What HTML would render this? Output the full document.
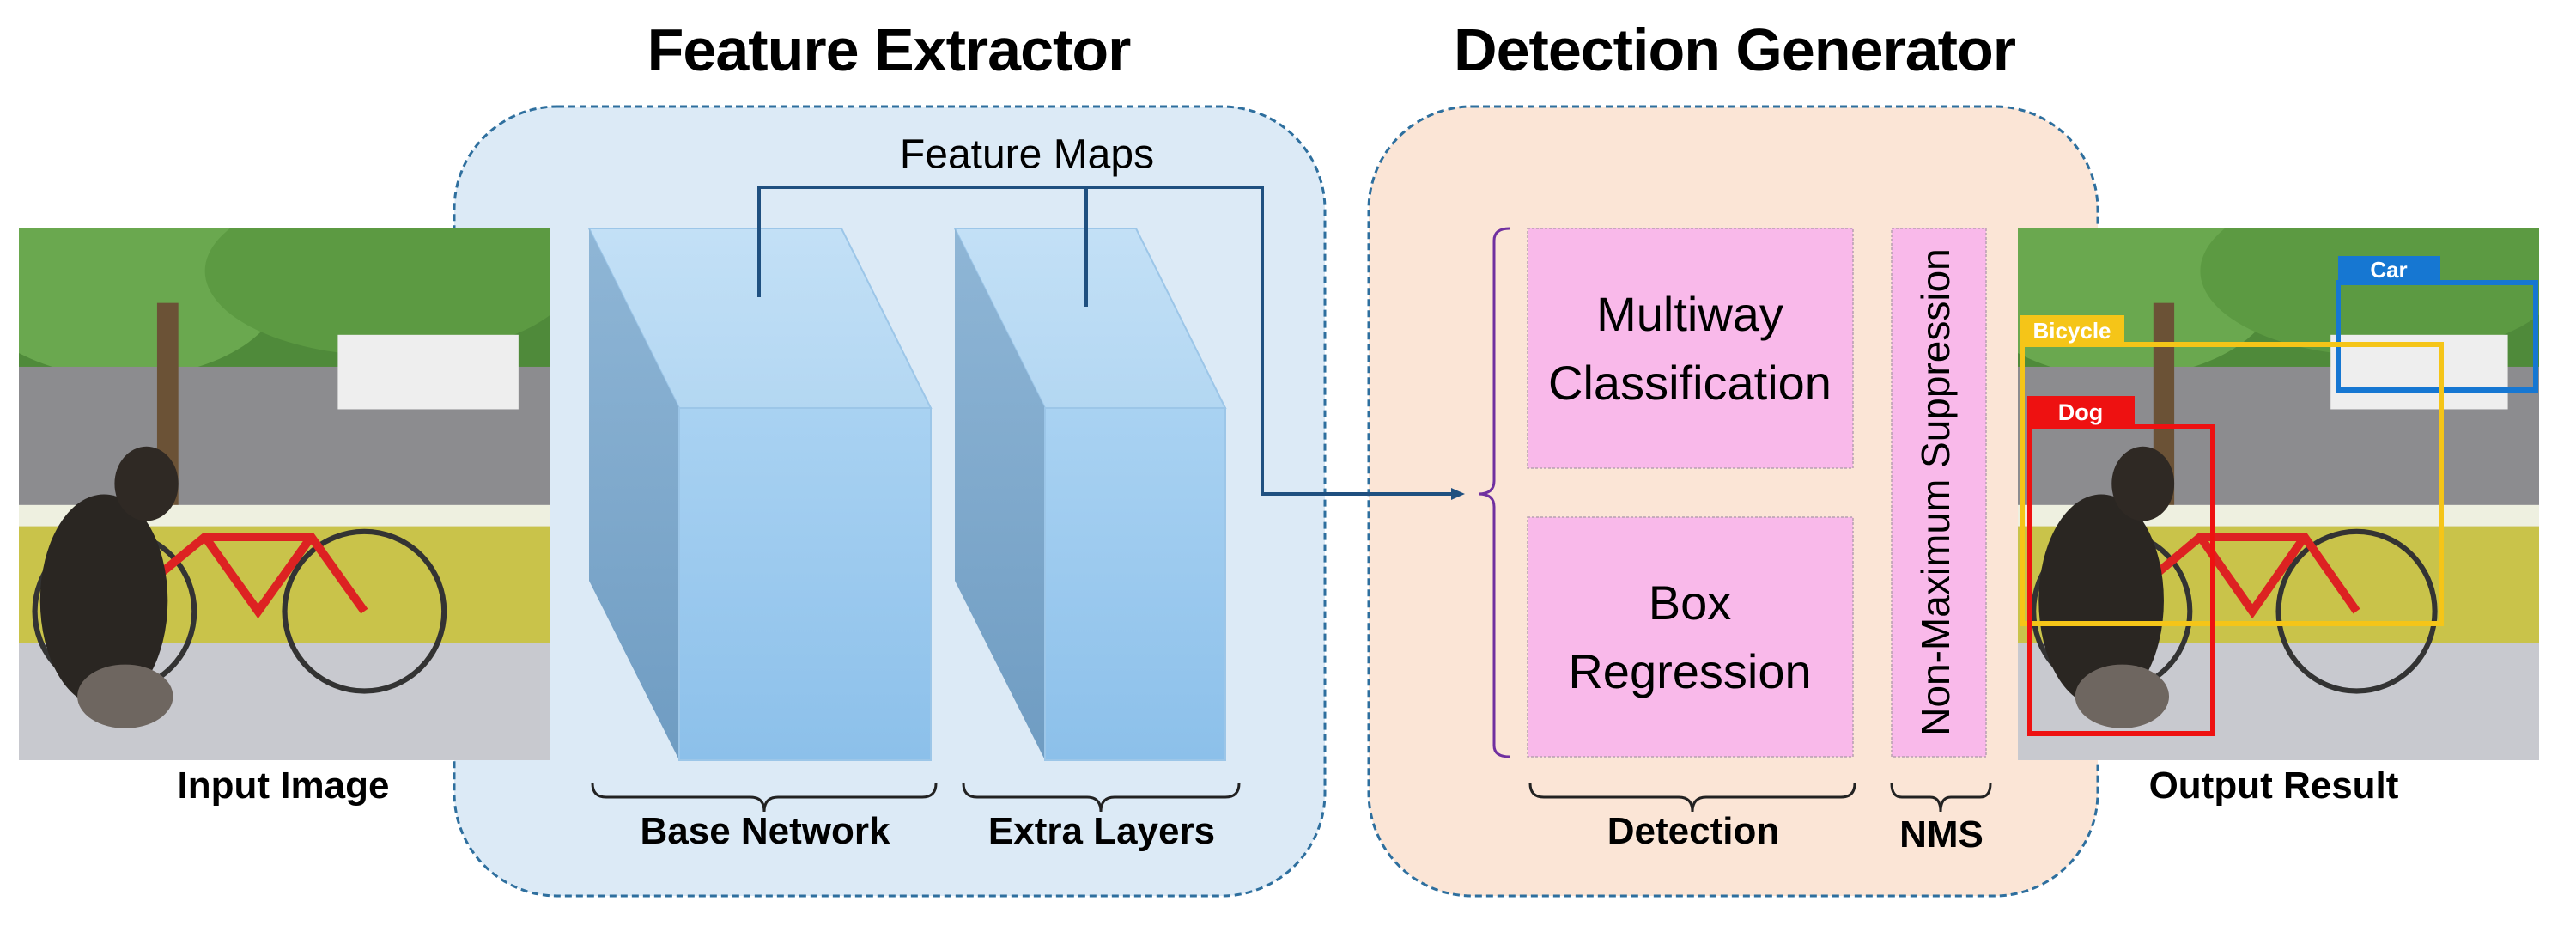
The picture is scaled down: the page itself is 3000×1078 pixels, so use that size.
<!DOCTYPE html>
<html><head><meta charset="utf-8"><style>
html,body{margin:0;padding:0;background:#fff}
body{width:3000px;height:1078px;position:relative;overflow:hidden;font-family:"Liberation Sans",sans-serif}
.t{position:absolute;white-space:nowrap;transform:translate(-50%,-50%);color:#000}
</style></head><body>
<svg width="3000" height="1078" style="position:absolute;left:0;top:0">
<defs>
<linearGradient id="front" x1="0" y1="0" x2="0" y2="1"><stop offset="0" stop-color="#a9d2f2"/><stop offset="1" stop-color="#8cc0ea"/></linearGradient>
<linearGradient id="top" x1="0" y1="0" x2="0" y2="1"><stop offset="0" stop-color="#c3e0f6"/><stop offset="1" stop-color="#b3d7f2"/></linearGradient>
<linearGradient id="side" x1="0" y1="0" x2="0" y2="1"><stop offset="0" stop-color="#8fb6d6"/><stop offset="1" stop-color="#6f9cc2"/></linearGradient>
<clipPath id="pc"><rect x="0" y="0" width="100" height="100"/></clipPath>
<g id="photo" clip-path="url(#pc)">
<rect x="0" y="0" width="100" height="100" fill="#cfd0cf"/>
<rect x="0" y="0" width="100" height="32" fill="#4f8a3a"/>
<ellipse cx="20" cy="10" rx="30" ry="18" fill="#6aa84f"/>
<ellipse cx="70" cy="8" rx="35" ry="16" fill="#5c9a42"/>
<rect x="0" y="26" width="100" height="26" fill="#8c8c8f"/>
<rect x="60" y="20" width="34" height="14" fill="#eeeeee"/>
<rect x="26" y="14" width="4" height="38" fill="#6b5236"/>
<rect x="0" y="52" width="100" height="4" fill="#eef0e0"/>
<rect x="0" y="56" width="100" height="22" fill="#c9c34a"/>
<rect x="0" y="78" width="100" height="22" fill="#c8c9cf"/>
<circle cx="18" cy="72" r="15" fill="none" stroke="#333" stroke-width="1"/>
<circle cx="65" cy="72" r="15" fill="none" stroke="#333" stroke-width="1"/>
<path d="M18 72 L35 58 L55 58 L65 72 M35 58 L45 72 L55 58" fill="none" stroke="#d22" stroke-width="1.6"/>
<ellipse cx="16" cy="70" rx="12" ry="20" fill="#2a2622"/>
<ellipse cx="20" cy="88" rx="9" ry="6" fill="#6e6660"/>
<ellipse cx="24" cy="48" rx="6" ry="7" fill="#2f2924"/>
</g>
</defs>
<rect x="529" y="124" width="1014" height="919" rx="120" fill="#dceaf6" stroke="#2e6f9e" stroke-width="3" stroke-dasharray="8,5"/>
<rect x="1594" y="124" width="849" height="919" rx="120" fill="#fbe5d6" stroke="#2e6f9e" stroke-width="3" stroke-dasharray="8,5"/>
<g transform="translate(22,266) scale(6.19,6.19)"><use href="#photo"/></g>
<g transform="translate(2350,266) scale(6.07,6.19)"><use href="#photo"/></g>
<polygon points="686,266 980,266 1084,475 791,475" fill="url(#top)" stroke="#9cc6e8" stroke-width="2"/>
<polygon points="686,266 791,475 791,885 686,676" fill="url(#side)"/>
<rect x="791" y="475" width="293" height="410" fill="url(#front)" stroke="#9cc6e8" stroke-width="2"/>
<polygon points="1112,266 1323,266 1427,475 1217,475" fill="url(#top)" stroke="#9cc6e8" stroke-width="2"/>
<polygon points="1112,266 1217,475 1217,885 1112,676" fill="url(#side)"/>
<rect x="1217" y="475" width="210" height="410" fill="url(#front)" stroke="#9cc6e8" stroke-width="2"/>
<g stroke="#1f5080" stroke-width="4" fill="none">
<polyline points="884,346 884,218 1470,218 1470,575 1695,575"/>
<line x1="1265" y1="218" x2="1265" y2="357"/>
</g>
<polygon points="1706,575 1690,568 1690,582" fill="#1f5080"/>
<path d="M1758,266 Q1740,266 1740,280 L1740,560 Q1740,575 1722,575 Q1740,575 1740,590 L1740,868 Q1740,881 1758,881" fill="none" stroke="#7030a0" stroke-width="3"/>
<g fill="#f9b9ea" stroke="#b8a0b0" stroke-width="1.5" stroke-dasharray="3,2">
<rect x="1779" y="266" width="379" height="279"/>
<rect x="1779" y="602" width="379" height="279"/>
<rect x="2203" y="266" width="110" height="615"/>
</g>
<g fill="none" stroke="#222" stroke-width="3">
<path d="M690,912 Q690,928 706,928 L874,928 Q890,928 890,945 Q890,928 906,928 L1074,928 Q1090,928 1090,912"/>
<path d="M1122,912 Q1122,928 1138,928 L1266,928 Q1282,928 1282,945 Q1282,928 1298,928 L1427,928 Q1443,928 1443,912"/>
<path d="M1782,912 Q1782,928 1798,928 L1955,928 Q1971,928 1971,945 Q1971,928 1987,928 L2144,928 Q2160,928 2160,912"/>
<path d="M2203,912 Q2203,928 2215,928 L2248,928 Q2260,928 2260,945 Q2260,928 2272,928 L2306,928 Q2318,928 2318,912"/>
</g>
<g fill="none" stroke-width="6">
<rect x="2723" y="329" width="230" height="125" stroke="#1677d2"/>
<rect x="2355" y="401" width="488" height="325" stroke="#f5c518"/>
<rect x="2364" y="497" width="213" height="357" stroke="#ee1111"/>
</g>
<rect x="2723" y="298" width="119" height="31" fill="#1677d2"/>
<rect x="2352" y="367" width="122" height="34" fill="#f5c518"/>
<rect x="2361" y="461" width="125" height="36" fill="#ee1111"/>
<text x="2782" y="323" font-family="Liberation Sans" font-weight="bold" font-size="26" fill="#fff" text-anchor="middle">Car</text>
<text x="2413" y="394" font-family="Liberation Sans" font-weight="bold" font-size="26" fill="#fff" text-anchor="middle">Bicycle</text>
<text x="2423" y="489" font-family="Liberation Sans" font-weight="bold" font-size="27" fill="#fff" text-anchor="middle">Dog</text>
<text x="2258" y="573" font-family="Liberation Sans" font-size="46" fill="#000" text-anchor="middle" transform="rotate(-90 2258 573)" dominant-baseline="middle">Non-Maximum Suppression</text>
</svg>
<div class="t" style="left:1035px;top:58px;font-size:70px;font-weight:bold;letter-spacing:-1px">Feature Extractor</div>
<div class="t" style="left:2020px;top:58px;font-size:70px;font-weight:bold;letter-spacing:-1px">Detection Generator</div>
<div class="t" style="left:1196px;top:180px;font-size:48px">Feature Maps</div>
<div class="t" style="left:330px;top:915px;font-size:44px;font-weight:bold">Input Image</div>
<div class="t" style="left:2648px;top:915px;font-size:44px;font-weight:bold">Output Result</div>
<div class="t" style="left:891px;top:968px;font-size:44px;font-weight:bold">Base Network</div>
<div class="t" style="left:1283px;top:968px;font-size:44px;font-weight:bold">Extra Layers</div>
<div class="t" style="left:1972px;top:968px;font-size:44px;font-weight:bold">Detection</div>
<div class="t" style="left:2261px;top:972px;font-size:44px;font-weight:bold">NMS</div>
<div class="t" style="left:1968px;top:406px;font-size:56px;text-align:center;line-height:80px">Multiway<br>Classification</div>
<div class="t" style="left:1968px;top:742px;font-size:56px;text-align:center;line-height:80px">Box<br>Regression</div>
</body></html>
